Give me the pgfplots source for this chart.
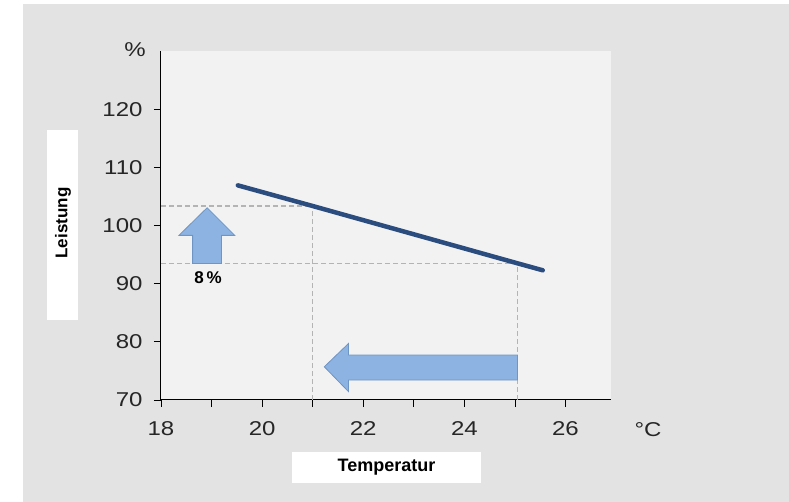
\documentclass[border=0pt]{standalone}
\usepackage{fontspec}
\setmainfont{Liberation Sans}
\newfontfamily\tickfont[FakeStretch=1.2]{Liberation Sans}
\usepackage{pgfplots}
\pgfplotsset{compat=1.18}
\definecolor{outerbg}{HTML}{E3E3E3}
\definecolor{plotbg}{HTML}{F2F2F2}
\definecolor{linecol}{HTML}{2B4C7E}
\definecolor{arrowfill}{HTML}{8DB3E2}
\definecolor{arrowdraw}{HTML}{6F95C4}
\definecolor{dashcol}{HTML}{B4B4B4}

\begin{document}
\begin{tikzpicture}[x=1pt,y=1pt]
\useasboundingbox (-161,-102) rectangle (628,400);
\fill[white] (-161,-102) rectangle (628,400);
\fill[outerbg] (-138,-102) rectangle (628,396);
% white label boxes
\fill[white] (-113.5,80) rectangle (-82.5,270);
\fill[white] (131,-52) rectangle (320,-83);
\node[rotate=90,font=\fontsize{17}{17}\selectfont\bfseries] at (-98,177) {Leistung};
\node[font=\fontsize{18}{18}\selectfont\bfseries] at (225.5,-67) {Temperatur};
\node[font=\tickfont\fontsize{20}{20}\selectfont, text=black!85] at (487,-30) {°C};
\node[font=\tickfont\fontsize{20}{20}\selectfont, text=black!85] at (-26,350) {\%};

\begin{axis}[
    scale only axis,
    width=450pt, height=349pt,
    xmin=18, xmax=26.9, ymin=70, ymax=130,
    axis lines*=left,
    axis line style={black, line width=1pt, -},
    axis background/.style={fill=plotbg},
    tick align=outside,
    major tick length=7pt,
    tick style={black, line width=0.8pt},
    xtick={18,...,26},
    xticklabels={18,,20,,22,,24,,26},
    ytick={70,80,...,120},
    yticklabels={70,80,90,100,110,120},
    ticklabel style={font=\tickfont\fontsize{20}{20}\selectfont, text=black!85},
    xticklabel style={yshift=-11pt},
    yticklabel style={xshift=-8pt},
    clip=false
]
% guide lines
\addplot[dashcol, line width=1.2pt, dash pattern=on 5pt off 3pt] coordinates {(18,103.35) (21,103.35)};
\addplot[dashcol, line width=1.2pt, dash pattern=on 5pt off 3pt] coordinates {(18,93.45) (25.05,93.45)};
\addplot[dashcol, line width=1.2pt, dash pattern=on 5pt off 3pt] coordinates {(21,70) (21,103.35)};
\addplot[dashcol, line width=1.2pt, dash pattern=on 5pt off 3pt] coordinates {(25.05,70) (25.05,93.45)};

% up arrow
\addplot[fill=arrowfill, draw=arrowdraw, line width=0.8pt] coordinates {
    (18.625,93.45) (19.196,93.45) (19.196,98.3) (19.458,98.3)
    (18.912,103.05) (18.355,98.3) (18.625,98.3)} -- cycle;
% left arrow
\addplot[fill=arrowfill, draw=arrowdraw, line width=0.8pt] coordinates {
    (25.05,77.72) (21.71,77.72) (21.71,79.73) (21.23,75.71)
    (21.71,71.42) (21.71,73.43) (25.05,73.43)} -- cycle;

% performance line
\addplot[linecol, line width=4.5pt, line cap=round] coordinates {
    (19.52,106.9) (21,103.35) (25.05,93.5) (25.55,92.3)};

\node[font=\fontsize{17}{17}\selectfont\bfseries] at (axis cs:18.93,91.1) {8\,\%};
\end{axis}
\end{tikzpicture}
\end{document}
